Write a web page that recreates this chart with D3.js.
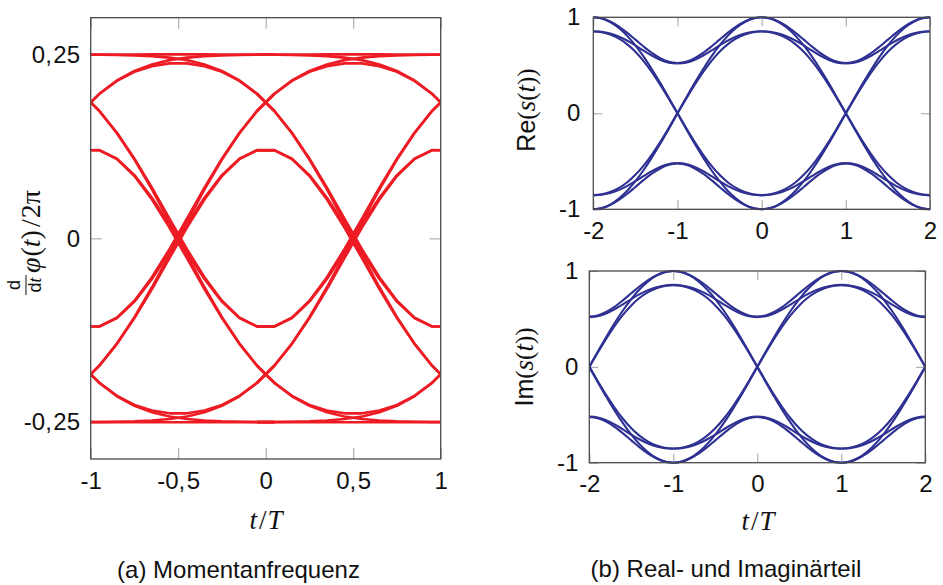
<!DOCTYPE html>
<html>
<head>
<meta charset="utf-8">
<script src="https://cdn.jsdelivr.net/npm/d3@7"></script>
<style>
  body { margin: 0; background: #fff; }
  svg { display: block; }
  .tick text { font-family: "Liberation Sans", Arial, Helvetica, sans-serif; font-size: 24px; fill: #111; }
  .tick line { stroke: #a8a8a8; stroke-width: 1.1; }
  .sans { font-family: "Liberation Sans", Arial, Helvetica, sans-serif; }
  .serif { font-family: "Liberation Serif", "Times New Roman", serif; }
  .it { font-style: italic; }
</style>
</head>
<body>
<svg id="fig" width="943" height="585"></svg>
<script>
// ---------------------------------------------------------------------------
// Instantaneous frequency (eye diagram): one symbol period, sampled at these
// local times, each row is one trace that repeats in every period shown.
// ---------------------------------------------------------------------------
const freqT = [-0.05, 0.05, 0.15, 0.25, 0.35, 0.45, 0.55, 0.65, 0.75, 0.85, 0.95, 1.05];
const freqTraces = [
  [0.2498, 0.2499, 0.2499, 0.2500, 0.2501, 0.2501, 0.2501, 0.2501, 0.2500, 0.2499, 0.2499, 0.2498],
  [0.2498, 0.2497, 0.2493, 0.2488, 0.2477, 0.2457, 0.2423, 0.2365, 0.2276, 0.2147, 0.1967, 0.1730],
  [0.1966, 0.1731, 0.1435, 0.1084, 0.0689, 0.0269, -0.0147, -0.0529, -0.0848, -0.1077, -0.1197, -0.1198],
  [0.1966, 0.1729, 0.1429, 0.1072, 0.0665, 0.0225, -0.0225, -0.0665, -0.1072, -0.1429, -0.1729, -0.1966],
  [0.1730, 0.1967, 0.2147, 0.2276, 0.2365, 0.2423, 0.2457, 0.2477, 0.2488, 0.2493, 0.2497, 0.2498],
  [0.1730, 0.1965, 0.2141, 0.2264, 0.2341, 0.2379, 0.2379, 0.2341, 0.2264, 0.2141, 0.1965, 0.1730],
  [0.1198, 0.1199, 0.1083, 0.0860, 0.0553, 0.0191, -0.0191, -0.0553, -0.0860, -0.1083, -0.1199, -0.1198],
  [0.1198, 0.1197, 0.1077, 0.0848, 0.0529, 0.0147, -0.0269, -0.0689, -0.1084, -0.1435, -0.1731, -0.1966],
  [-0.2498, -0.2499, -0.2499, -0.2500, -0.2501, -0.2501, -0.2501, -0.2501, -0.2500, -0.2499, -0.2499, -0.2498],
  [-0.2498, -0.2497, -0.2493, -0.2488, -0.2477, -0.2457, -0.2423, -0.2365, -0.2276, -0.2147, -0.1967, -0.1730],
  [-0.1966, -0.1731, -0.1435, -0.1084, -0.0689, -0.0269, 0.0147, 0.0529, 0.0848, 0.1077, 0.1197, 0.1198],
  [-0.1966, -0.1729, -0.1429, -0.1072, -0.0665, -0.0225, 0.0225, 0.0665, 0.1072, 0.1429, 0.1729, 0.1966],
  [-0.1730, -0.1967, -0.2147, -0.2276, -0.2365, -0.2423, -0.2457, -0.2477, -0.2488, -0.2493, -0.2497, -0.2498],
  [-0.1730, -0.1965, -0.2141, -0.2264, -0.2341, -0.2379, -0.2379, -0.2341, -0.2264, -0.2141, -0.1965, -0.1730],
  [-0.1198, -0.1199, -0.1083, -0.0860, -0.0553, -0.0191, 0.0191, 0.0553, 0.0860, 0.1083, 0.1199, 0.1198],
  [-0.1198, -0.1197, -0.1077, -0.0848, -0.0529, -0.0147, 0.0269, 0.0689, 0.1084, 0.1435, 0.1731, 0.1966]
];
const freqPeriodStarts = [-1, 0];

// ---------------------------------------------------------------------------
// Real / imaginary part: traces from an eye opening (local t = 0) to the
// following zero crossing (local t = 1).
// ---------------------------------------------------------------------------
const iqT = [0, 0.1, 0.2, 0.3, 0.4, 0.5, 0.6, 0.7, 0.8, 0.9, 1];
const iqTraces = [
  [1.0000, 0.9875, 0.9510, 0.8909, 0.8090, 0.7071, 0.5879, 0.4542, 0.3096, 0.1571, 0.0028],
  [1.0000, 0.9891, 0.9566, 0.9056, 0.8404, 0.7673, 0.6935, 0.6261, 0.5720, 0.5368, 0.5237],
  [0.8519, 0.8437, 0.8202, 0.7798, 0.7205, 0.6412, 0.5418, 0.4242, 0.2913, 0.1474, -0.0028],
  [0.8548, 0.8493, 0.8311, 0.8002, 0.7580, 0.7071, 0.6522, 0.5997, 0.5562, 0.5279, 0.5189],
  [-1.0000, -0.9875, -0.9510, -0.8909, -0.8090, -0.7071, -0.5879, -0.4542, -0.3096, -0.1571, -0.0028],
  [-1.0000, -0.9891, -0.9566, -0.9056, -0.8404, -0.7673, -0.6935, -0.6261, -0.5720, -0.5368, -0.5237],
  [-0.8519, -0.8437, -0.8202, -0.7798, -0.7205, -0.6412, -0.5418, -0.4242, -0.2913, -0.1474, 0.0028],
  [-0.8548, -0.8493, -0.8311, -0.8002, -0.7580, -0.7071, -0.6522, -0.5997, -0.5562, -0.5279, -0.5189]
];
// eye openings and the direction in which each half period runs away from them
const reSegments = [{ open: -2, dir: 1 }, { open: 0, dir: -1 }, { open: 0, dir: 1 }, { open: 2, dir: -1 }];
const imSegments = [{ open: -1, dir: -1 }, { open: -1, dir: 1 }, { open: 1, dir: -1 }, { open: 1, dir: 1 }];

// axis ticks and their labels
const freqXTicks = [-1, -0.5, 0, 0.5, 1];
const freqXLabels = ["-1", "-0,5", "0", "0,5", "1"];
const freqYTicks = [-0.25, 0, 0.25];
const freqYLabels = ["-0,25", "0", "0,25"];
const iqXTicks = [-2, -1, 0, 1, 2];
const iqXLabels = ["-2", "-1", "0", "1", "2"];
const iqYTicks = [-1, 0, 1];
const iqYLabels = ["-1", "0", "1"];

const captionA = "(a) Momentanfrequenz";
const captionB = "(b) Real- und Imaginärteil";

// ---------------------------------------------------------------------------
const svg = d3.select("#fig");
const RED = "#ed1c24";
const BLUE = "#2e3192";

function labelFor(ticks, labels) {
  return v => labels[ticks.indexOf(v)];
}

// split "0,25" so the digits after the decimal comma get a little room
function spaceComma(sel) {
  sel.selectAll(".tick text").each(function () {
    const t = d3.select(this);
    const s = t.text();
    const i = s.indexOf(",");
    if (i < 0) return;
    t.text(null);
    t.append("tspan").text(s.slice(0, i + 1));
    t.append("tspan").attr("dx", 1.5).text(s.slice(i + 1));
  });
}

function panel(cfg) {
  const x = d3.scaleLinear().domain(cfg.xDomain).range([cfg.left, cfg.right]);
  const y = d3.scaleLinear().domain(cfg.yDomain).range([cfg.bottom, cfg.top]);
  const g = svg.append("g");
  const id = "clip" + cfg.name;
  svg.append("defs").append("clipPath").attr("id", id)
    .append("rect")
    .attr("x", cfg.left).attr("y", cfg.top - 6)
    .attr("width", cfg.right - cfg.left).attr("height", cfg.bottom - cfg.top + 12);

  const tl = cfg.tick;
  // inner ticks on all four sides
  const bottom = g.append("g").attr("transform", `translate(0,${cfg.bottom})`)
    .call(d3.axisBottom(x).tickValues(cfg.xTicks).tickFormat(labelFor(cfg.xTicks, cfg.xLabels))
      .tickSizeInner(-tl).tickSizeOuter(0).tickPadding(cfg.xPad));
  const top = g.append("g").attr("transform", `translate(0,${cfg.top})`)
    .call(d3.axisTop(x).tickValues(cfg.xTicks).tickFormat("").tickSizeInner(-tl).tickSizeOuter(0));
  const left = g.append("g").attr("transform", `translate(${cfg.left},0)`)
    .call(d3.axisLeft(y).tickValues(cfg.yTicks).tickFormat(labelFor(cfg.yTicks, cfg.yLabels))
      .tickSizeInner(-tl).tickSizeOuter(0).tickPadding(cfg.yPad));
  const right = g.append("g").attr("transform", `translate(${cfg.right},0)`)
    .call(d3.axisRight(y).tickValues(cfg.yTicks).tickFormat("").tickSizeInner(-tl).tickSizeOuter(0));
  [bottom, top, left, right].forEach(a => {
    a.select(".domain").remove();
    a.attr("font-size", null).attr("font-family", null);
    a.selectAll(".tick line").attr("stroke", null);
    a.selectAll(".tick text").attr("fill", null);
  });
  spaceComma(bottom); spaceComma(left);

  const plot = g.append("g").attr("clip-path", `url(#${id})`);
  return { x, y, g, plot, cfg };
}

function frame(p) {
  const c = p.cfg;
  p.g.append("rect")
    .attr("x", c.left).attr("y", c.top)
    .attr("width", c.right - c.left).attr("height", c.bottom - c.top)
    .attr("fill", "none").attr("stroke", "#4a4a4a").attr("stroke-width", 1.3);
}

// ---------------- (a) instantaneous frequency ----------------
const pa = panel({
  name: "a", left: 90.7, right: 440.7, top: 17.7, bottom: 459,
  xDomain: [-1, 1], yDomain: [-0.3, 0.3],
  xTicks: freqXTicks, xLabels: freqXLabels, yTicks: freqYTicks, yLabels: freqYLabels,
  tick: 11, xPad: 12.5, yPad: 10.7
});
const lineA = d3.line().x(d => pa.x(d[0])).y(d => pa.y(d[1]));
freqPeriodStarts.forEach(start => {
  freqTraces.forEach(tr => {
    pa.plot.append("path")
      .datum(freqT.map((t, i) => [start + t, tr[i]]))
      .attr("d", lineA)
      .attr("fill", "none").attr("stroke", RED).attr("stroke-width", 2.6)
      .attr("stroke-linejoin", "round");
  });
});
frame(pa);

// ---------------- (b) real and imaginary part ----------------
function iqPanel(cfg, segments) {
  const p = panel(Object.assign({
    xDomain: [-2, 2], yDomain: [-1, 1],
    xTicks: iqXTicks, xLabels: iqXLabels, yTicks: iqYTicks, yLabels: iqYLabels, tick: 9
  }, cfg));
  const line = d3.line().x(d => p.x(d[0])).y(d => p.y(d[1])).curve(d3.curveMonotoneX);
  segments.forEach(seg => {
    iqTraces.forEach(tr => {
      const pts = iqT.map((t, i) => [seg.open + seg.dir * t, tr[i]]).sort((a, b) => a[0] - b[0]);
      p.plot.append("path").datum(pts).attr("d", line)
        .attr("fill", "none").attr("stroke", BLUE).attr("stroke-width", 2.1);
    });
  });
  frame(p);
  return p;
}
const pRe = iqPanel({ name: "re", left: 593.3, right: 930, top: 17.3, bottom: 209.3, xPad: 12.7, yPad: 13 }, reSegments);
const pIm = iqPanel({ name: "im", left: 589.3, right: 925.3, top: 271, bottom: 462.7, xPad: 11.8, yPad: 11 }, imSegments);

// ---------------- axis titles ----------------
function tOverT(cx, baseline) {
  const t = svg.append("text").attr("class", "serif").attr("font-size", 27)
    .attr("x", cx).attr("y", baseline).attr("text-anchor", "middle").attr("fill", "#111");
  t.append("tspan").attr("class", "it").text("t");
  t.append("tspan").attr("dx", 2).text("/");
  t.append("tspan").attr("class", "it").attr("dx", 1).text("T");
}
tOverT(266, 529);
tOverT(758, 530);

function partTitle(prefix, bx, cy) {
  const t = svg.append("text").attr("transform", `translate(${bx},${cy}) rotate(-90)`)
    .attr("text-anchor", "middle").attr("fill", "#111").attr("font-size", 25);
  t.append("tspan").attr("class", "sans").text(prefix);
  t.append("tspan").attr("class", "serif").text("(");
  t.append("tspan").attr("class", "serif it").attr("font-size", 27).text("s");
  t.append("tspan").attr("class", "serif").text("(");
  t.append("tspan").attr("class", "serif it").attr("font-size", 27).text("t");
  t.append("tspan").attr("class", "serif").text("))");
}
partTitle("Re", 535, 110);
partTitle("Im", 533, 367);

// d/dt phi(t) / 2pi
{
  const g = svg.append("g").attr("transform", "translate(40,238) rotate(-90)").attr("fill", "#111");
  const fr = g.append("g").attr("transform", "translate(-47,0)");
  fr.append("text").attr("class", "sans").attr("font-size", 18).attr("text-anchor", "middle")
    .attr("x", 0).attr("y", -20).text("d");
  fr.append("line").attr("x1", -10).attr("x2", 10).attr("y1", -14).attr("y2", -14)
    .attr("stroke", "#111").attr("stroke-width", 1);
  const den = fr.append("text").attr("font-size", 18).attr("text-anchor", "middle").attr("x", 0).attr("y", 1);
  den.append("tspan").attr("class", "sans").text("d");
  den.append("tspan").attr("class", "serif it").text("t");
  const m = g.append("text").attr("class", "serif").attr("font-size", 28).attr("x", -35).attr("y", 0);
  m.append("tspan").attr("class", "it").text("φ");
  m.append("tspan").attr("dx", 1).text("(");
  m.append("tspan").attr("class", "it").text("t");
  m.append("tspan").text(")");
  m.append("tspan").attr("dx", 3).text("/");
  m.append("tspan").attr("dx", 1).text("2π");
}

// ---------------- captions ----------------
svg.append("text").attr("class", "sans").attr("font-size", 24).attr("fill", "#111")
  .attr("x", 238.5).attr("y", 577.7).attr("text-anchor", "middle").text(captionA);
svg.append("text").attr("class", "sans").attr("font-size", 24).attr("fill", "#111")
  .attr("x", 726).attr("y", 576.7).attr("text-anchor", "middle").text(captionB);
</script>
</body>
</html>
